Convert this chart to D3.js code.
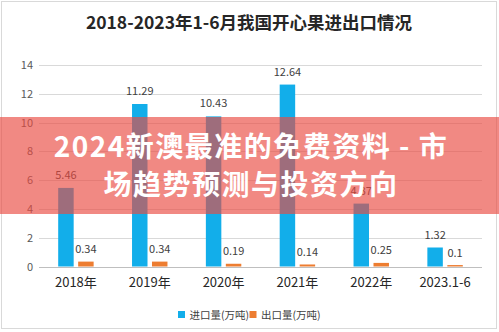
<!DOCTYPE html>
<html><head><meta charset="utf-8">
<script src="https://cdn.jsdelivr.net/npm/d3@7/dist/d3.min.js"></script>
<style>
html,body{margin:0;padding:0;background:#fff;}
svg{display:block;font-family:"Noto Sans CJK SC","Noto Sans",sans-serif;}
</style></head>
<body><svg id="c" width="499" height="332"></svg>
<script>
const title = "2018-2023年1-6月我国开心果进出口情况";
const categories = ["2018年","2019年","2020年","2021年","2022年","2023.1-6"];
const seriesNames = ["进口量(万吨)","出口量(万吨)"];
const importVals = [5.46, 11.29, 10.43, 12.64, 4.37, 1.32];
const exportVals = [0.34, 0.34, 0.19, 0.14, 0.25, 0.1];
const yTicks = [0, 2, 4, 6, 8, 10, 12, 14];
const colors = ["#12aeea", "#ed7d31"];
const overlayLines = ["2024新澳最准的免费资料 - 市", "场趋势预测与投资方向"];

const svg = d3.select("#c");
svg.append("rect").attr("x",0).attr("y",0).attr("width",499).attr("height",332).attr("fill","#fff");
svg.append("rect").attr("x",1.5).attr("y",1.5).attr("width",495).attr("height",327)
  .attr("fill","none").attr("stroke","#d9d9d9");

svg.append("text").attr("x",249).attr("y",28.5).attr("text-anchor","middle")
  .attr("font-size",17.5).attr("font-weight","bold").attr("fill","#262626").text(title);

const y = d3.scaleLinear().domain([0,14]).range([266.5,65]);
const x0 = d3.scaleBand().domain(categories).range([39,482]).padding(0);
const step = x0.step();
const x1 = d3.scaleBand().domain(seriesNames).range([0.26*step, 0.74*step]).paddingInner(0.225);

// grid
svg.append("g").selectAll("line").data(yTicks).join("line")
  .attr("x1",39).attr("x2",482)
  .attr("y1",d=>Math.round(y(d))+0.5).attr("y2",d=>Math.round(y(d))+0.5)
  .attr("stroke",d=>d===0?"#bfbfbf":"#d9d9d9").attr("stroke-width",1);

// y axis labels via axis generator
const yAxis = d3.axisLeft(y).tickValues(yTicks).tickSize(0).tickPadding(0);
const ga = svg.append("g").attr("transform","translate(33,0)").call(yAxis);
ga.select(".domain").remove();
ga.selectAll("text").attr("font-size",11).attr("fill","#595959")
  .attr("font-family","'Noto Sans CJK SC',sans-serif");

const data = categories.map((c,i)=>({c, vals:[importVals[i], exportVals[i]]}));
const g = svg.append("g");
data.forEach(d=>{
  d.vals.forEach((v,j)=>{
    const bx = x0(d.c)+x1(seriesNames[j]);
    g.append("rect").attr("x",bx).attr("y",y(v)).attr("width",x1.bandwidth())
      .attr("height",y(0)-y(v)).attr("fill",colors[j]);
    g.append("text").attr("x",bx+x1.bandwidth()/2).attr("y",y(v)-(j===0?9:8.5))
      .attr("text-anchor","middle").attr("font-size",11).attr("fill","#404040").text(v);
  });
});

// x labels
const xAxis = d3.axisBottom(x0).tickSize(0).tickPadding(0);
const gx = svg.append("g").attr("transform","translate(0,276)").call(xAxis);
gx.select(".domain").remove();
gx.selectAll("text").attr("font-size",13).attr("fill","#262626").attr("dy","0.85em")
  .attr("font-family","'Noto Sans CJK SC',sans-serif");

// legend
const legX = [178, 249.5];
seriesNames.forEach((s,i)=>{
  svg.append("rect").attr("x",legX[i]).attr("y",311).attr("width",7).attr("height",7).attr("fill",colors[i]);
  svg.append("text").attr("x",legX[i]+11.5).attr("y",318.5).attr("font-size",10.5).attr("fill","#404040").text(s);
});

// overlay band
svg.append("rect").attr("x",0).attr("y",117).attr("width",499).attr("height",97)
  .attr("fill","rgb(234,74,64)").attr("fill-opacity",0.65);
overlayLines.forEach((t,i)=>{
  svg.append("text").attr("x",251).attr("y",157+i*38).attr("text-anchor","middle")
    .attr("font-size",28).attr("font-weight","bold").attr("letter-spacing",1.5)
    .attr("fill","#fff").text(t);
});
</script></body></html>
